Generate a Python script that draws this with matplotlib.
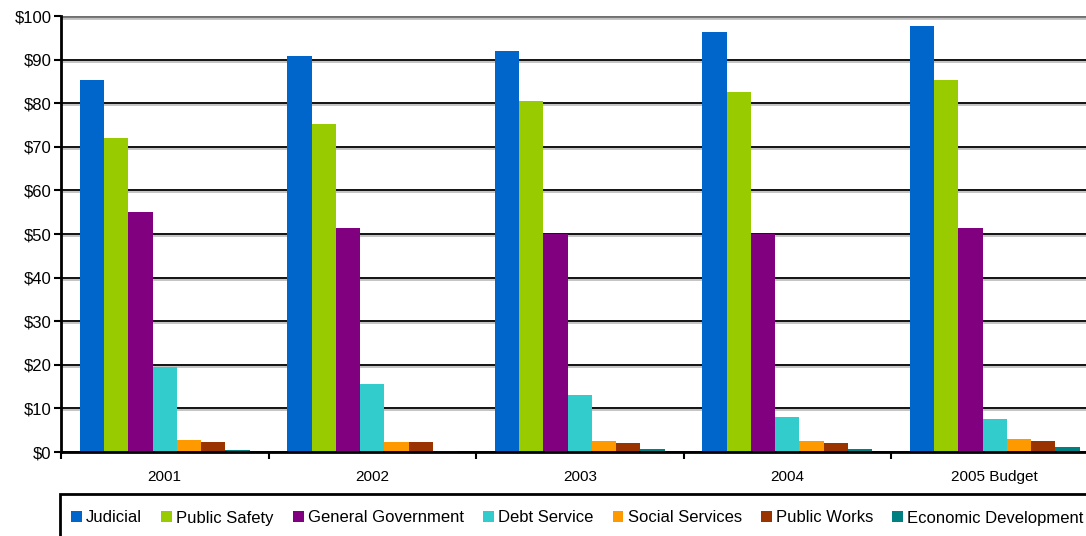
import numpy as np
import matplotlib
matplotlib.use('Agg')
import matplotlib.pyplot as plt
import matplotlib.patheffects as pe
from matplotlib.patches import Rectangle

plt.rcParams['font.family'] = ['Liberation Sans', 'DejaVu Sans']

# spending by function, millions of dollars
years = ['2001', '2002', '2003', '2004', '2005 Budget']
series = ['Judicial', 'Public Safety', 'General Government', 'Debt Service',
          'Social Services', 'Public Works', 'Economic Development']
judicial = [85.3, 90.8, 92.0, 96.3, 97.7]
public_safety = [72.0, 75.2, 80.5, 82.6, 85.3]
general_gov = [55.0, 51.3, 50.1, 50.1, 51.3]
debt_service = [19.6, 15.5, 13.0, 8.0, 7.5]
social_services = [2.7, 2.2, 2.5, 2.5, 3.0]
public_works = [2.2, 2.2, 2.1, 2.0, 2.5]
econ_dev = [0.4, 0.3, 0.7, 0.7, 1.1]
colors = ['#0066CC', '#99CC00', '#800080', '#33CCCC', '#FF9900', '#993300', '#008080']

values = [judicial, public_safety, general_gov, debt_service,
          social_services, public_works, econ_dev]

fig = plt.figure(figsize=(10.86, 5.36), dpi=100)
W, H = 1086, 536
ax = fig.add_axes([61 / W, 84 / H, 1037.5 / W, 436 / H])

x = np.arange(len(years))
bw = 0.117
for j, (name, vals, c) in enumerate(zip(series, values, colors)):
    ax.bar(x + (j - 3) * bw, vals, bw, color=c, label=name, zorder=3)

ax.set_xlim(-0.5, len(years) - 0.5)
ax.set_ylim(0, 100)
ax.set_yticks(np.arange(0, 101, 10))
ax.set_yticklabels(['$%d' % v for v in range(0, 101, 10)])

ax.set_xticks(x)
ax.set_xticklabels(years)
ax.set_xticks(np.arange(-0.5, len(years), 1), minor=True)
ax.tick_params(axis='x', which='major', length=0, pad=13, labelsize=11)
ax.tick_params(axis='x', which='minor', length=5, width=1.5, direction='out')
ax.tick_params(axis='y', length=5, width=1.5, pad=2, labelsize=12)

ax.grid(axis='y', color='black', lw=1.3, zorder=1)
for gl in ax.get_ygridlines():
    gl.set_path_effects([pe.SimpleLineShadow(offset=(0, -1.5), shadow_color='gray', alpha=0.5),
                         pe.Normal()])
ax.get_ygridlines()[-1].set_color('#707070')
ax.get_ygridlines()[-1].set_linewidth(2)

for s in ['top', 'right']:
    ax.spines[s].set_visible(False)
ax.spines['left'].set_linewidth(2)
ax.spines['bottom'].set_linewidth(2)
ax.spines['left'].set_zorder(4)
ax.spines['bottom'].set_zorder(4)

# legend box runs off the right and bottom edges
fig.patches.append(Rectangle((60 / W, -0.05), 1.0, 0.05 + (536 - 494) / H,
                             transform=fig.transFigure, fill=False,
                             edgecolor='black', lw=2))
leg = fig.legend(loc='center left', bbox_to_anchor=(71 / W, 1 - 518 / H), ncol=7,
                 fontsize=12, frameon=False, borderaxespad=0, borderpad=0,
                 handlelength=0.65, handleheight=0.65, handletextpad=0.25,
                 columnspacing=1.15)

fig.savefig('out.png', dpi=100)
